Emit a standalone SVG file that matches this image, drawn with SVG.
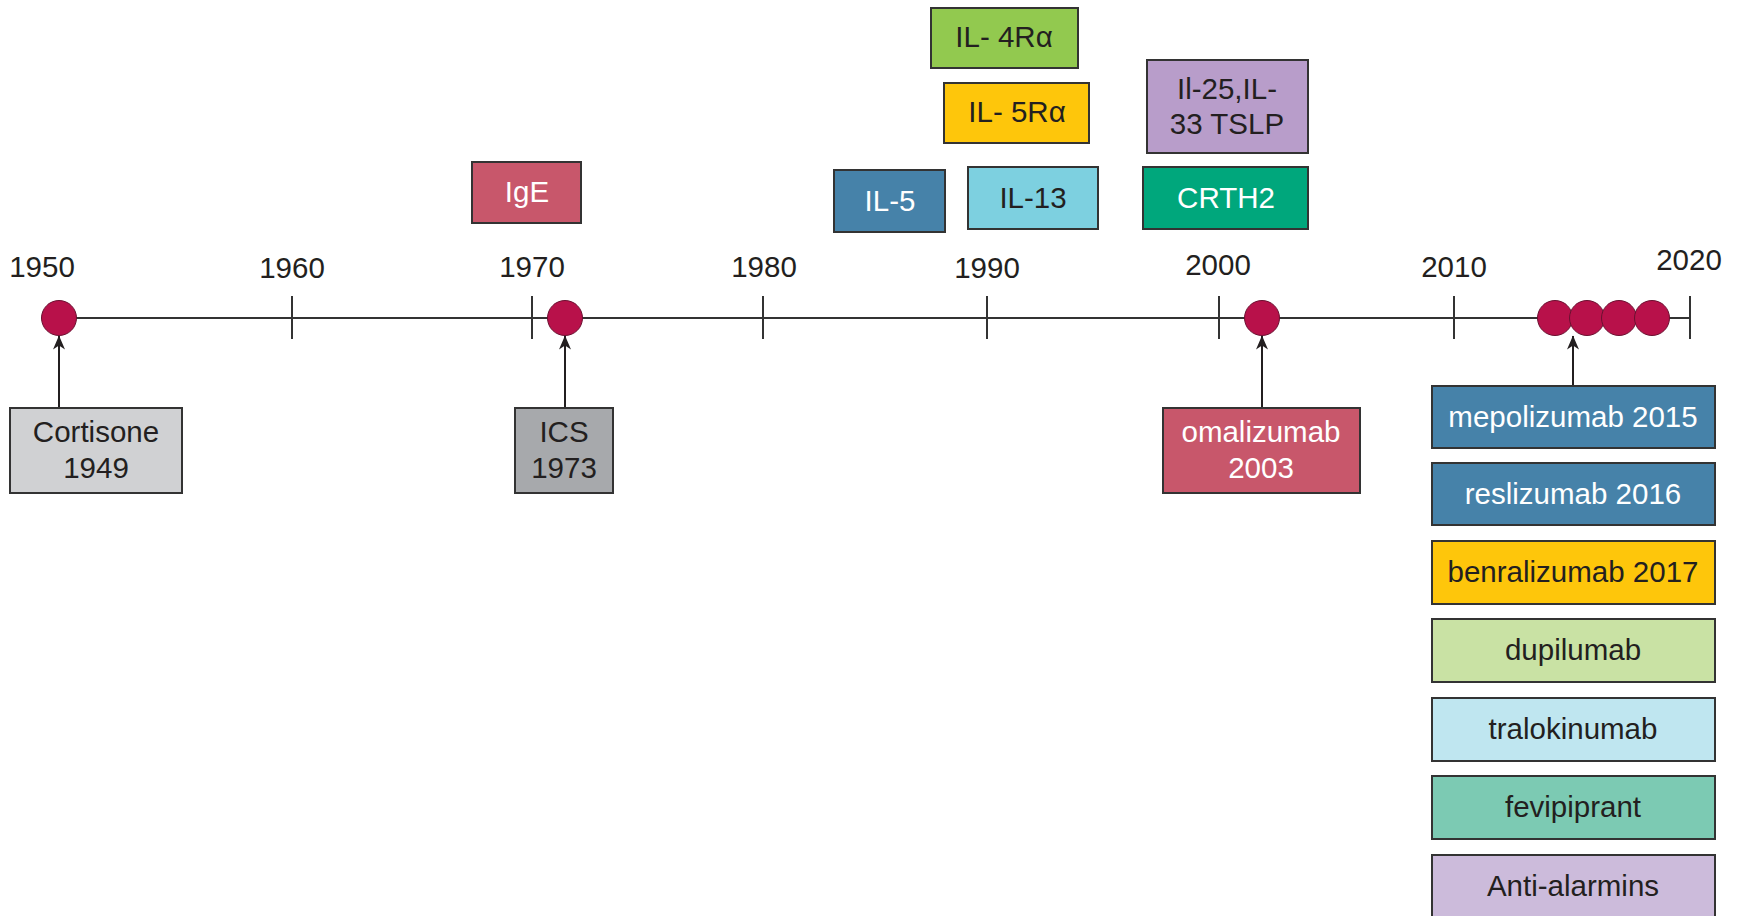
<svg xmlns="http://www.w3.org/2000/svg" width="1742" height="916" viewBox="0 0 1742 916">
<defs>
<style>
text{font-family:"Liberation Sans",Arial,sans-serif;font-size:29.5px;text-anchor:middle;fill:#231f20}
.w{fill:#ffffff}
.box{stroke:#333;stroke-width:2}
.dot{fill:#b8114a;stroke:#6a1030;stroke-width:1}
.axis{stroke:#333;stroke-width:2;fill:none}
.con{stroke:#231f20;stroke-width:2;fill:none;marker-end:url(#ah)}
</style>
<marker id="ah" viewBox="0 0 14 12" refX="13.5" refY="6" markerWidth="15" markerHeight="12" orient="auto" markerUnits="userSpaceOnUse">
<path d="M0,0 L14,6 L0,12 L4,6 z" fill="#231f20"/>
</marker>
</defs>
<rect width="1742" height="916" fill="#fff"/>
<g id="axis">
<line class="axis" x1="59" y1="318" x2="1690" y2="318"/>
<line class="axis" x1="292" y1="296" x2="292" y2="339"/>
<line class="axis" x1="532" y1="296" x2="532" y2="339"/>
<line class="axis" x1="763" y1="296" x2="763" y2="339"/>
<line class="axis" x1="987" y1="296" x2="987" y2="339"/>
<line class="axis" x1="1219" y1="296" x2="1219" y2="339"/>
<line class="axis" x1="1454" y1="296" x2="1454" y2="339"/>
<line class="axis" x1="1690" y1="296" x2="1690" y2="339"/>
<text x="42" y="277">1950</text>
<text x="292" y="278">1960</text>
<text x="532" y="277">1970</text>
<text x="764" y="277">1980</text>
<text x="987" y="278">1990</text>
<text x="1218" y="275">2000</text>
<text x="1454" y="277">2010</text>
<text x="1689" y="270">2020</text>
</g>
<g id="dots">
<circle class="dot" cx="59" cy="318" r="17.5"/>
<circle class="dot" cx="565" cy="318" r="17.5"/>
<circle class="dot" cx="1262" cy="318" r="17.5"/>
<circle class="dot" cx="1555" cy="318" r="17.5"/>
<circle class="dot" cx="1587" cy="318" r="17.5"/>
<circle class="dot" cx="1619" cy="318" r="17.5"/>
<circle class="dot" cx="1652" cy="318" r="17.5"/>
</g>
<g id="connectors">
<line class="con" x1="59" y1="408" x2="59" y2="336"/>
<line class="con" x1="565" y1="408" x2="565" y2="336"/>
<line class="con" x1="1262" y1="408" x2="1262" y2="336"/>
<line class="con" x1="1573" y1="386" x2="1573" y2="336"/>
</g>
<g id="cortisone"><rect class="box" x="10" y="408" width="172" height="85" fill="#d0d1d3"/><text x="96" y="442">Cortisone</text><text x="96" y="478">1949</text></g>
<g id="ics"><rect class="box" x="515" y="408" width="98" height="85" fill="#a7a9ac"/><text x="564" y="442">ICS</text><text x="564" y="478">1973</text></g>
<g id="omalizumab"><rect class="box" x="1163" y="408" width="197" height="85" fill="#c8576b"/><text class="w" x="1261" y="442">omalizumab</text><text class="w" x="1261" y="478">2003</text></g>
<g id="ige"><rect class="box" x="472" y="162" width="109" height="61" fill="#c8576b"/><text class="w" x="527" y="202">IgE</text></g>
<g id="il5"><rect class="box" x="834" y="170" width="111" height="62" fill="#4682a9"/><text class="w" x="890" y="211">IL-5</text></g>
<g id="il13"><rect class="box" x="968" y="167" width="130" height="62" fill="#7dd0e0"/><text x="1033" y="208">IL-13</text></g>
<g id="il4ra"><rect class="box" x="931" y="8" width="147" height="60" fill="#92c94f"/><text x="1004" y="47">IL- 4Rα</text></g>
<g id="il5ra"><rect class="box" x="944" y="83" width="145" height="60" fill="#fec60b"/><text x="1017" y="122">IL- 5Rα</text></g>
<g id="alarmins"><rect class="box" x="1147" y="60" width="161" height="93" fill="#b89dca"/><text x="1227" y="99">Il-25,IL-</text><text x="1227" y="134">33 TSLP</text></g>
<g id="crth2"><rect class="box" x="1143" y="167" width="165" height="62" fill="#00a77c"/><text class="w" x="1226" y="208">CRTH2</text></g>
<g id="mepolizumab"><rect class="box" x="1432" y="386" width="283" height="62" fill="#4682a9"/><text class="w" x="1573" y="427">mepolizumab 2015</text></g>
<g id="reslizumab"><rect class="box" x="1432" y="463" width="283" height="62" fill="#4682a9"/><text class="w" x="1573" y="504">reslizumab 2016</text></g>
<g id="benralizumab"><rect class="box" x="1432" y="541" width="283" height="63" fill="#fec60b"/><text x="1573" y="582">benralizumab 2017</text></g>
<g id="dupilumab"><rect class="box" x="1432" y="619" width="283" height="63" fill="#c9e2a4"/><text x="1573" y="660">dupilumab</text></g>
<g id="tralokinumab"><rect class="box" x="1432" y="698" width="283" height="63" fill="#bfe6f0"/><text x="1573" y="739">tralokinumab</text></g>
<g id="fevipiprant"><rect class="box" x="1432" y="776" width="283" height="63" fill="#7ccab3"/><text x="1573" y="817">fevipiprant</text></g>
<g id="antialarmins"><rect class="box" x="1432" y="855" width="283" height="63" fill="#ccbbdb"/><text x="1573" y="896">Anti-alarmins</text></g>
</svg>
